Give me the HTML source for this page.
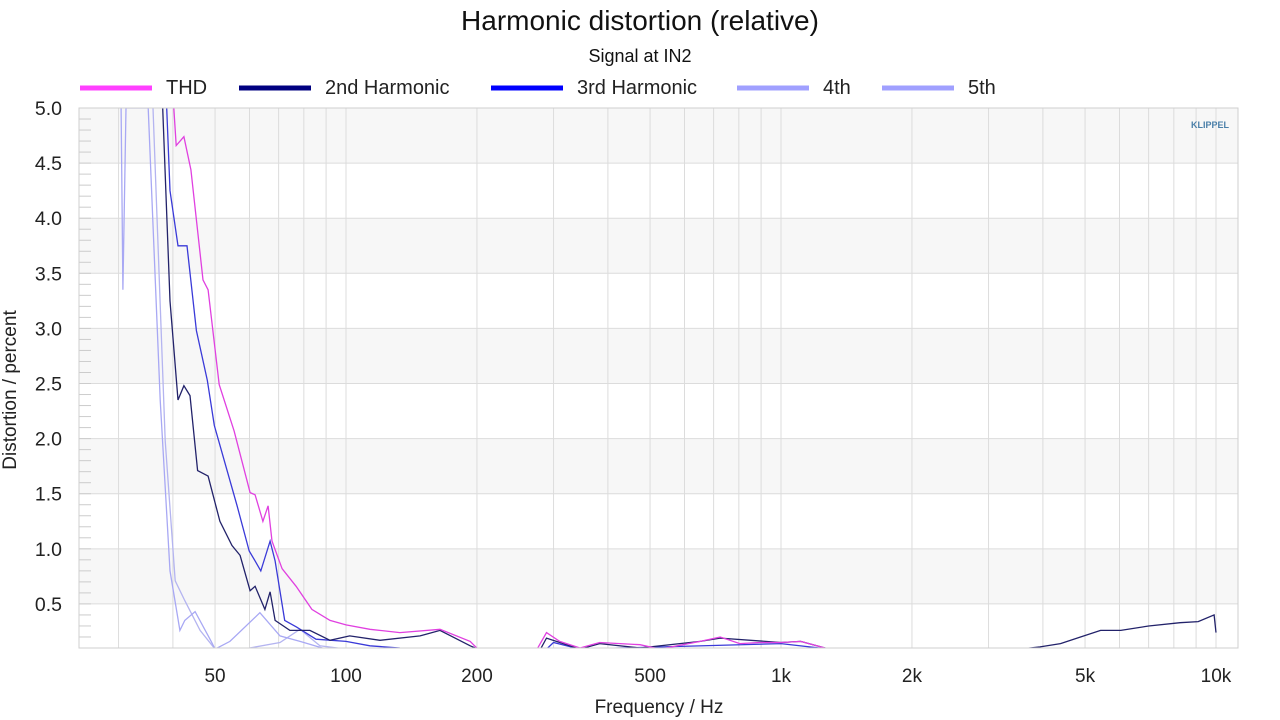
<!DOCTYPE html>
<html><head><meta charset="utf-8"><style>
body{margin:0;background:#fff;font-family:"Liberation Sans",sans-serif;}
svg{display:block}
</style></head><body>
<svg id="chart" width="1280" height="720" font-family="Liberation Sans, sans-serif">
<text x="640" y="30" text-anchor="middle" font-size="28" fill="#111">Harmonic distortion (relative)</text>
<text x="640" y="62" text-anchor="middle" font-size="18" fill="#111">Signal at IN2</text>
<g id="legend"></g>
<g id="grid"></g>
<clipPath id="clip"><rect x="79" y="108" width="1159" height="540"/></clipPath>
<g id="series" clip-path="url(#clip)"></g>
<g id="axes"></g>
<text x="1210" y="128" text-anchor="middle" font-size="9" font-weight="bold" fill="#4a7fa8">KLIPPEL</text>
<text x="659" y="713" text-anchor="middle" font-size="19" fill="#222">Frequency / Hz</text>
<text transform="translate(16,390) rotate(-90)" text-anchor="middle" font-size="19" fill="#222">Distortion / percent</text>
</svg>
<script>
const xTickVals=[50,100,200,500,1000,2000,5000,10000];
const xTickLabels=["50","100","200","500","1k","2k","5k","10k"];
const yTickVals=[0.5,1.0,1.5,2.0,2.5,3.0,3.5,4.0,4.5,5.0];
const legendNames=["THD","2nd Harmonic","3rd Harmonic","4th","5th"];
const thdF=[40.2,40.7,42.4,44.0,46.9,48.2,51.1,55.3,60.2,61.8,64.4,66.2,67.6,71.3,76.8,83.5,91.9,100,113.5,133,164.5,193,201,275,289,310,345,383,474,527,652,725,804,894,1000,1110,1290];
const thdV=[5.0,4.66,4.74,4.44,3.44,3.35,2.49,2.07,1.51,1.49,1.25,1.39,1.07,0.82,0.66,0.45,0.35,0.31,0.27,0.24,0.27,0.16,0.09,0.09,0.24,0.16,0.1,0.15,0.13,0.09,0.16,0.2,0.14,0.15,0.15,0.16,0.09];
const h2F=[37.9,39.4,41.1,42.4,43.8,45.6,48.2,51.3,54.7,57.1,60.2,61.8,65.1,66.9,68.7,74.3,82.6,91.9,102,119.7,148,164.5,193,201,280,289,345,383,474,652,725,1000,1110,1290,3400,3540,3940,4390,4880,5430,6040,7000,8270,9100,9900,10000];
const h2V=[5.0,3.25,2.35,2.48,2.39,1.71,1.66,1.25,1.03,0.94,0.62,0.66,0.45,0.61,0.35,0.26,0.26,0.17,0.21,0.17,0.21,0.26,0.12,0.09,0.09,0.19,0.09,0.14,0.1,0.16,0.19,0.15,0.16,0.09,0.09,0.09,0.11,0.14,0.2,0.26,0.26,0.3,0.33,0.34,0.4,0.24];
const h3F=[38.7,39.4,41.1,43.1,45.3,48.0,49.8,53.3,56.2,59.9,61.8,63.7,66.9,68.7,72.3,77.0,85.3,100,113.5,133,150,289,300,345,1000,1290];
const h3V=[5.0,4.25,3.75,3.75,2.98,2.53,2.12,1.71,1.39,0.98,0.89,0.8,1.07,0.89,0.35,0.29,0.18,0.16,0.12,0.1,0.09,0.09,0.15,0.09,0.14,0.09];
const h4F=[30.4,30.7,31.2,35.1,37.4,39.4,41.5,42.6,45.0,49.0,50,54.1,63.4,70.5,78.4,90];
const h4V=[5.0,3.35,5.0,5.0,2.35,0.8,0.26,0.35,0.43,0.16,0.09,0.16,0.42,0.21,0.16,0.09];
const h5F=[36.0,38.4,40.5,42.6,46.2,50,60,70.5,78.4,87.1,100];
const h5V=[5.0,1.98,0.71,0.53,0.26,0.09,0.1,0.15,0.27,0.12,0.09];

const L=79,R=1238,T=108,B=648,ymin=0.1,ymax=5.0;
const X=f=>346+(Math.log10(f)-2)*435;
const Y=v=>T+(ymax-v)/(ymax-ymin)*(B-T);
const NS="http://www.w3.org/2000/svg";
function mk(tag,attrs,parent){const e=document.createElementNS(NS,tag);for(const k in attrs)e.setAttribute(k,attrs[k]);parent.appendChild(e);return e;}
const grid=document.getElementById('grid'),axes=document.getElementById('axes'),series=document.getElementById('series'),legend=document.getElementById('legend');
for(let i=0;i<yTickVals.length;i++){const v=yTickVals[i];if(Math.round(v*2)%2===0){const r=mk('rect',{x:L,y:Y(v),width:R-L,height:Y(v-0.5)-Y(v),fill:'#f7f7f7'},grid);

}}
for(let d=10;d<=10000;d*=10){for(let m=1;m<10;m++){const f=d*m;const x=X(f);if(x<L||x>R)continue;const l=mk('line',{x1:x,x2:x,y1:T,y2:B,stroke:'#dcdcdc','stroke-width':1},grid);

}}
yTickVals.forEach(v=>{const y=Y(v);const l=mk('line',{x1:L,x2:R,y1:y,y2:y,stroke:'#dcdcdc'},grid);


const t=mk('text',{x:62,y:y+7,'text-anchor':'end','font-size':19.5,fill:'#222'},axes);t.textContent=v.toFixed(1);

});
for(let v=0.2;v<5;v+=0.1){const y=Y(v);const l=mk('line',{x1:L,x2:L+12,y1:y,y2:y,stroke:'#ccc'},grid);

}
xTickVals.forEach((f,i)=>{const t=mk('text',{x:X(f),y:682,'text-anchor':'middle','font-size':19,fill:'#222'},axes);t.textContent=xTickLabels[i];

});
const fr=mk('rect',{x:L,y:T,width:R-L,height:B-T,fill:'none',stroke:'#cfcfcf'},axes);


const defs=[[h5F,h5V,'#b4b4f0','series-5th'],[h4F,h4V,'#a8a8f4','series-4th'],[h3F,h3V,'#3a3ad8','series-3rd-harmonic'],[h2F,h2V,'#22226a','series-2nd-harmonic'],[thdF,thdV,'#e040e0','series-thd']];
defs.forEach(([F,V,c,n])=>{let d='';F.forEach((f,i)=>{d+=(i?'L':'M')+X(f).toFixed(1)+','+Y(V[i]).toFixed(1);});const p=mk('path',{d:d,fill:'none',stroke:c,'stroke-width':1.3},series);

});
const lc=['#ff40ff','#000080','#0000ff','#a0a0ff','#a0a0ff'];
const lx=[80,239,491,737,882];
legendNames.forEach((nm,i)=>{const g=mk('g',{},legend);


mk('line',{x1:lx[i],x2:lx[i]+72,y1:88,y2:88,stroke:lc[i],'stroke-width':5},g);
const t=mk('text',{x:lx[i]+86,y:94,'font-size':20,fill:'#222'},g);t.textContent=nm;});
</script>
</body></html>
